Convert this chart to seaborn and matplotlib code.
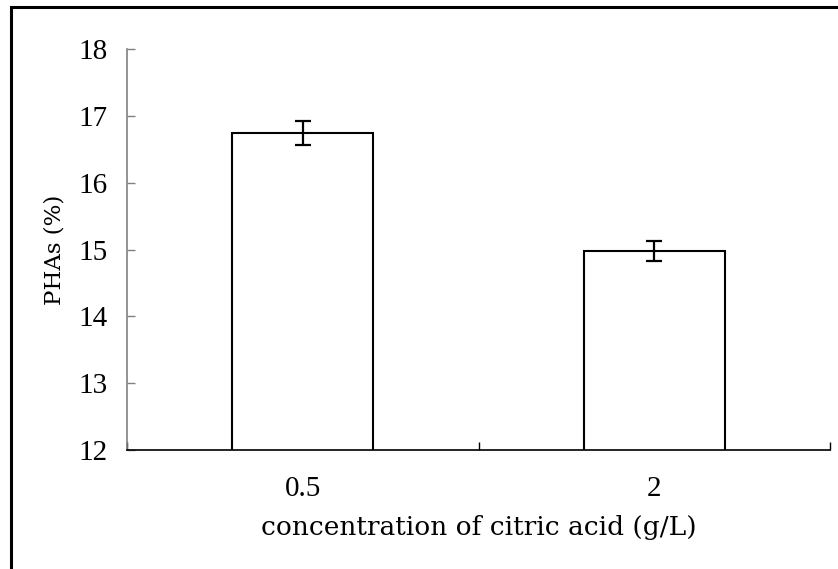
import matplotlib
matplotlib.use("Agg")
import matplotlib.pyplot as plt
from matplotlib.lines import Line2D
from matplotlib.ticker import FixedLocator
import seaborn as sns
import pandas as pd

categories = ["0.5", "2"]
values = [16.74, 14.98]
errors = [0.18, 0.15]
y_ticks = [12, 13, 14, 15, 16, 17, 18]

sns.set_theme(style="white")
plt.rcParams["font.family"] = ["Liberation Serif", "DejaVu Serif"]
plt.rcParams["text.color"] = "black"
plt.rcParams["axes.labelcolor"] = "black"
plt.rcParams["xtick.color"] = "black"
plt.rcParams["ytick.color"] = "black"

df = pd.DataFrame({"conc": categories, "phas": values})

fig = plt.figure(figsize=(8.38, 5.69), dpi=100)
ax = fig.add_axes([127/838, 1-450/569, (830-127)/838, (450-49)/569])

sns.barplot(data=df, x="conc", y="phas", order=categories, width=0.4,
            color="white", edgecolor="black", linewidth=1.5, ax=ax, errorbar=None)
for p in ax.patches:
    p.set_facecolor("white")
    p.set_edgecolor("black")
    p.set_linewidth(1.5)

ax.errorbar(x=list(range(len(categories))), y=values, yerr=errors, fmt="none",
            ecolor="black", elinewidth=1.6, capsize=5.5, capthick=1.6, zorder=5)

ax.set_xlim(-0.5, len(categories) - 0.5)
ax.set_ylim(y_ticks[0], y_ticks[-1])
ax.set_yticks(y_ticks)
ax.set_yticklabels([str(t) for t in y_ticks], fontsize=21)
ax.set_xticks(range(len(categories)))
ax.set_xticklabels(categories, fontsize=21)
ax.xaxis.set_minor_locator(FixedLocator([i - 0.5 for i in range(len(categories) + 1)]))

ax.tick_params(axis="x", which="major", length=0, pad=19, labelcolor="black")
ax.tick_params(axis="x", which="minor", direction="in", length=6, width=1, color="black", top=False, bottom=True)
ax.tick_params(axis="y", which="major", direction="in", length=6, width=1, color="#808080",
               labelcolor="black", pad=14, left=True)

for s in ["top", "right"]:
    ax.spines[s].set_visible(False)
ax.spines["left"].set_color("#808080")
ax.spines["left"].set_linewidth(1.2)
ax.spines["bottom"].set_color("black")
ax.spines["bottom"].set_linewidth(1.2)

ax.set_xlabel("concentration of citric acid (g/L)", fontsize=19, labelpad=9,
              family=["DejaVu Serif"], color="black")
ax.set_ylabel("PHAs (%)", fontsize=16.5, labelpad=9, family=["DejaVu Serif"], color="black")
ax.grid(False)

# figure border (left and top edges visible)
fx = 11/838
fy = 1 - 7/569
fig.add_artist(Line2D([fx, fx, 1.0], [0.0, fy, fy], transform=fig.transFigure,
                      color="black", linewidth=2.2, solid_joinstyle="miter"))

fig.savefig("out.png", dpi=100, facecolor="white")
